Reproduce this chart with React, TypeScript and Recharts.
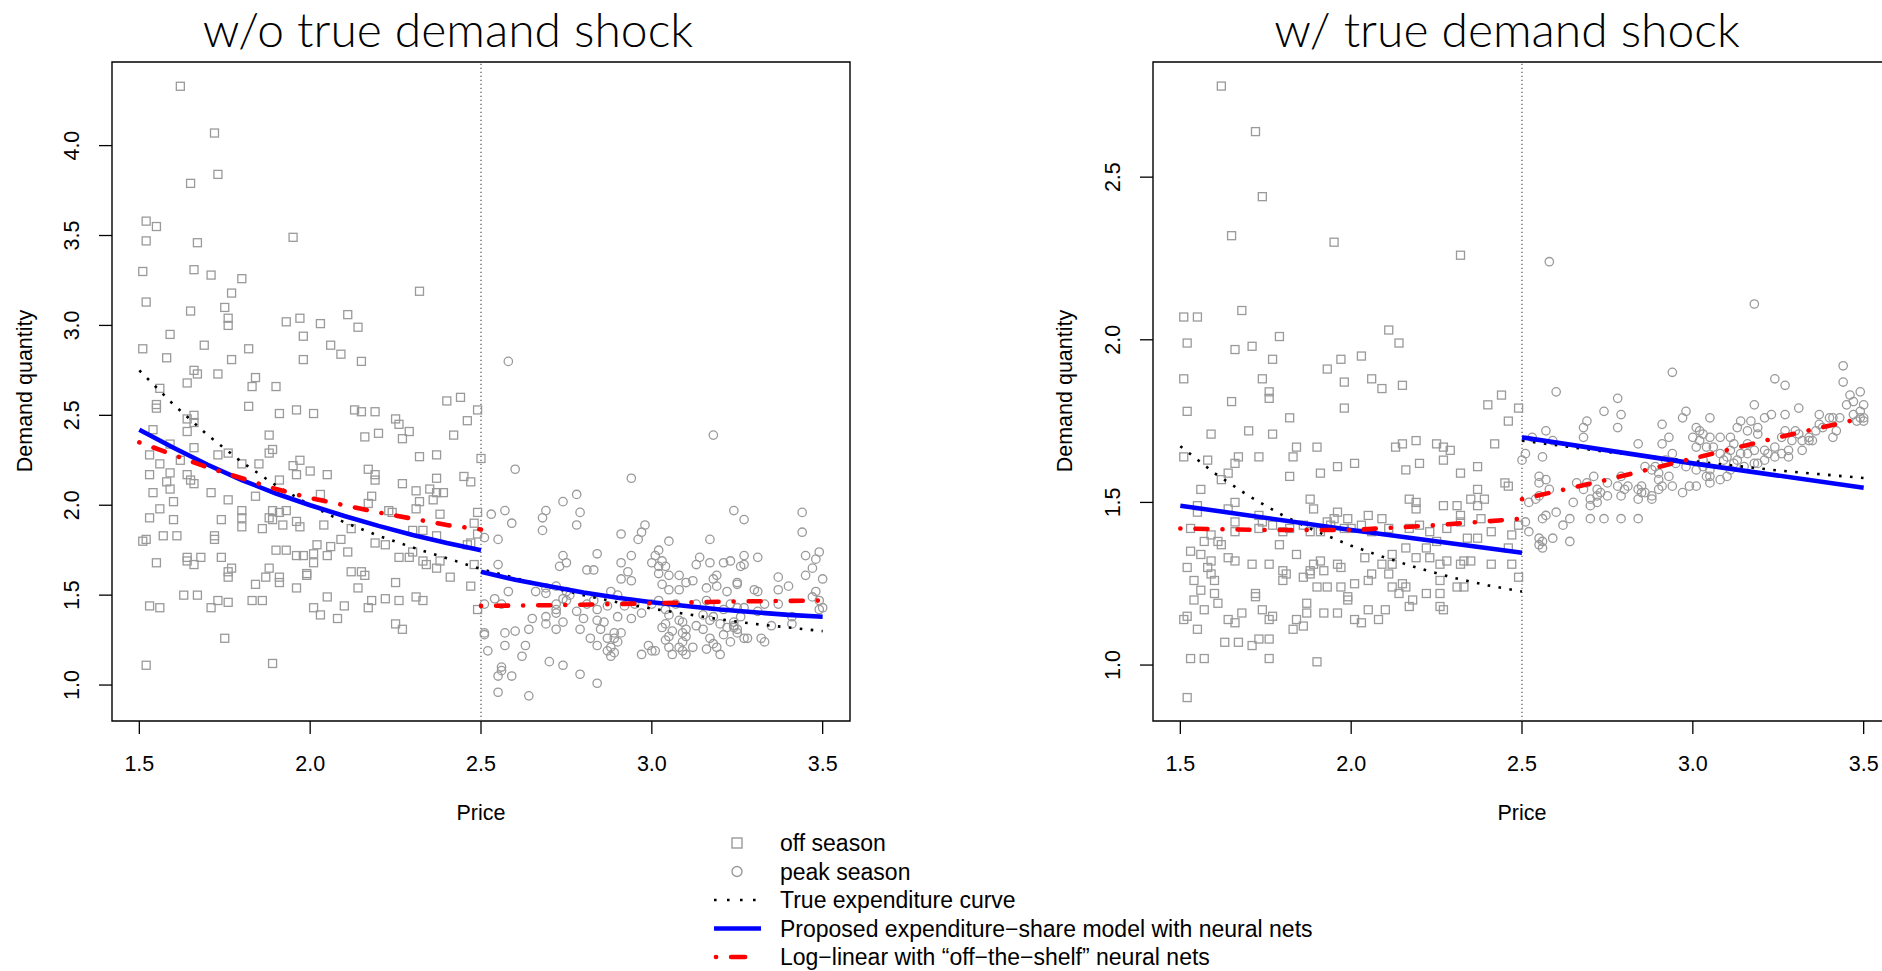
import React from 'react';
import { ScatterChart, Scatter, XAxis, YAxis, ReferenceLine, ReferenceArea } from 'recharts';

type Pair = [number, number];

// price, demand quantity — off season observations, no demand shock
const offSeasonNoShock: Pair[] = [
  [1.62, 4.33], [1.72, 4.07], [1.73, 3.84], [1.65, 3.79], [1.52, 3.58], [1.55, 3.55], [1.52, 3.47], [1.67, 3.46],
  [1.95, 3.49], [1.51, 3.3], [1.66, 3.31], [1.71, 3.28], [1.8, 3.26], [1.77, 3.18], [1.52, 3.13], [1.75, 3.1],
  [1.65, 3.08], [2.32, 3.19], [1.76, 3.04], [1.76, 3.0], [1.93, 3.02], [1.97, 3.04], [2.03, 3.01], [2.11, 3.06],
  [2.14, 2.99], [1.59, 2.95], [1.98, 2.94], [1.51, 2.87], [1.69, 2.89], [1.82, 2.87], [2.06, 2.89], [2.09, 2.84],
  [1.58, 2.82], [1.77, 2.81], [1.98, 2.81], [2.15, 2.8], [1.66, 2.75], [1.67, 2.73], [1.73, 2.73], [1.64, 2.68],
  [1.56, 2.65], [1.83, 2.66], [1.84, 2.71], [1.9, 2.66], [1.55, 2.56], [1.55, 2.54], [1.82, 2.55], [1.91, 2.51],
  [1.96, 2.53], [2.01, 2.51], [2.13, 2.53], [2.15, 2.52], [2.19, 2.52], [2.4, 2.58], [2.44, 2.6], [2.49, 2.53],
  [1.66, 2.5], [1.64, 2.48], [1.66, 2.46], [2.25, 2.48], [2.26, 2.45], [2.46, 2.47], [1.54, 2.42], [1.64, 2.41],
  [2.29, 2.41], [1.88, 2.39], [2.16, 2.38], [2.2, 2.4], [2.27, 2.37], [2.42, 2.39], [1.59, 2.34], [1.66, 2.32],
  [1.89, 2.31], [1.88, 2.29], [1.53, 2.28], [1.73, 2.28], [2.32, 2.27], [2.37, 2.28], [2.5, 2.26], [1.62, 2.25],
  [1.56, 2.23], [1.8, 2.23], [1.85, 2.23], [1.76, 2.29], [1.95, 2.22], [1.97, 2.25], [1.59, 2.18], [1.53, 2.17],
  [1.64, 2.17], [1.96, 2.17], [2.0, 2.19], [2.05, 2.17], [2.17, 2.2], [2.19, 2.17], [2.37, 2.15], [2.45, 2.16],
  [1.65, 2.14], [1.66, 2.12], [1.58, 2.13], [1.91, 2.14], [2.19, 2.14], [2.27, 2.12], [2.47, 2.13], [1.59, 2.09],
  [1.54, 2.07], [1.71, 2.07], [1.84, 2.05], [2.03, 2.06], [2.31, 2.08], [2.35, 2.09], [2.37, 2.07], [2.39, 2.07],
  [1.76, 2.03], [1.6, 2.02], [2.18, 2.05], [2.17, 2.01], [2.32, 2.02], [2.36, 2.03], [1.56, 1.98], [1.8, 1.97],
  [1.89, 1.97], [1.91, 1.96], [1.93, 1.97], [2.23, 1.97], [2.24, 1.96], [2.31, 1.98], [2.38, 1.95], [2.49, 1.96],
  [1.53, 1.93], [1.6, 1.92], [1.74, 1.92], [1.8, 1.93], [1.88, 1.93], [1.89, 1.92], [1.96, 1.91], [2.04, 1.89],
  [1.92, 1.89], [1.97, 1.88], [1.8, 1.88], [1.86, 1.87], [2.3, 1.86], [2.33, 1.86], [2.48, 1.9], [2.49, 1.84],
  [2.12, 1.87], [1.57, 1.83], [1.61, 1.83], [1.72, 1.83], [1.72, 1.81], [1.51, 1.8], [1.52, 1.81], [2.09, 1.81],
  [2.37, 1.83], [2.47, 1.79], [2.46, 1.78], [2.19, 1.79], [2.22, 1.78], [1.9, 1.75], [1.93, 1.75], [2.02, 1.78],
  [2.06, 1.77], [2.11, 1.74], [2.01, 1.73], [1.96, 1.72], [1.98, 1.72], [2.05, 1.72], [2.26, 1.71], [2.29, 1.71],
  [2.3, 1.74], [1.55, 1.68], [1.64, 1.71], [1.64, 1.69], [1.66, 1.67], [1.68, 1.71], [1.74, 1.71], [2.01, 1.68],
  [2.33, 1.69], [2.38, 1.69], [2.34, 1.67], [2.48, 1.67], [2.37, 1.65], [1.77, 1.65], [1.76, 1.63], [1.88, 1.65],
  [2.12, 1.63], [2.15, 1.63], [2.16, 1.61], [1.99, 1.62], [1.99, 1.61], [1.76, 1.6], [1.87, 1.6], [1.91, 1.6],
  [1.91, 1.57], [1.84, 1.56], [1.96, 1.54], [2.14, 1.54], [2.25, 1.57], [2.41, 1.6], [2.47, 1.55], [1.63, 1.5],
  [1.67, 1.5], [1.73, 1.47], [1.76, 1.46], [1.83, 1.47], [1.86, 1.47], [2.05, 1.49], [2.18, 1.47], [2.22, 1.48],
  [2.26, 1.47], [2.31, 1.49], [2.33, 1.47], [1.53, 1.44], [1.56, 1.43], [1.71, 1.43], [2.01, 1.43], [2.03, 1.39],
  [2.1, 1.44], [2.17, 1.43], [2.08, 1.37], [2.25, 1.34], [2.27, 1.31], [2.49, 1.42], [1.75, 1.26], [1.52, 1.11],
  [1.89, 1.12],
];

// peak season observations, no demand shock
const peakSeasonNoShock: Pair[] = [
  [2.58, 2.8], [3.18, 2.39], [2.6, 2.2], [2.94, 2.15], [2.78, 2.06], [2.74, 2.02], [2.57, 1.97], [2.53, 1.95],
  [2.68, 1.93], [2.69, 1.97], [2.59, 1.9], [2.79, 1.96], [2.78, 1.89], [2.68, 1.86], [2.55, 1.81], [2.51, 1.82],
  [2.98, 1.89], [2.97, 1.85], [2.96, 1.81], [2.91, 1.84], [3.05, 1.8], [3.17, 1.81], [3.24, 1.97], [3.27, 1.92],
  [3.44, 1.96], [3.44, 1.85], [2.74, 1.72], [2.75, 1.68], [2.73, 1.66], [2.84, 1.73], [2.81, 1.64], [2.83, 1.64],
  [2.91, 1.68], [2.94, 1.72], [2.93, 1.63], [2.91, 1.59], [2.94, 1.58], [3.0, 1.68], [3.02, 1.75], [3.03, 1.69],
  [3.01, 1.72], [3.02, 1.66], [3.04, 1.66], [3.02, 1.62], [3.03, 1.56], [3.05, 1.61], [3.08, 1.61], [3.1, 1.57],
  [3.12, 1.58], [3.08, 1.53], [3.05, 1.53], [3.14, 1.71], [3.17, 1.68], [3.13, 1.67], [3.21, 1.68], [3.23, 1.69],
  [3.27, 1.72], [3.31, 1.71], [3.27, 1.67], [3.26, 1.66], [3.19, 1.61], [3.18, 1.59], [3.19, 1.55], [3.16, 1.54],
  [3.25, 1.57], [3.25, 1.56], [3.22, 1.52], [3.3, 1.53], [3.31, 1.52], [3.37, 1.6], [3.37, 1.53], [3.4, 1.55],
  [3.45, 1.72], [3.49, 1.74], [3.48, 1.7], [3.47, 1.65], [3.5, 1.59], [3.45, 1.61], [3.48, 1.52], [3.47, 1.49],
  [3.49, 1.47], [3.49, 1.42], [3.5, 1.43], [3.41, 1.38], [3.41, 1.34], [3.35, 1.33], [3.37, 1.45], [3.33, 1.45],
  [2.55, 1.67], [2.58, 1.52], [2.54, 1.48], [2.51, 1.45], [2.56, 1.45], [2.66, 1.52], [2.69, 1.51], [2.69, 1.54],
  [2.72, 1.55], [2.75, 1.52], [2.76, 1.5], [2.74, 1.48], [2.75, 1.47], [2.72, 1.42], [2.72, 1.45], [2.72, 1.4],
  [2.69, 1.38], [2.69, 1.34], [2.65, 1.37], [2.64, 1.31], [2.6, 1.3], [2.57, 1.29], [2.51, 1.29], [2.74, 1.35],
  [2.72, 1.31], [2.8, 1.37], [2.78, 1.41], [2.81, 1.45], [2.84, 1.42], [2.87, 1.44], [2.83, 1.47], [2.84, 1.36],
  [2.85, 1.31], [2.86, 1.35], [2.88, 1.52], [2.9, 1.5], [2.92, 1.44], [2.9, 1.38], [2.94, 1.37], [2.97, 1.4],
  [2.95, 1.45], [3.0, 1.45], [3.02, 1.47], [3.04, 1.42], [3.07, 1.45], [3.05, 1.39], [3.04, 1.34], [3.08, 1.36],
  [3.09, 1.35], [3.1, 1.31], [3.09, 1.29], [3.06, 1.3], [3.13, 1.45], [3.16, 1.47], [3.17, 1.44], [3.15, 1.39],
  [3.17, 1.36], [3.13, 1.33], [3.15, 1.31], [3.18, 1.38], [3.21, 1.42], [3.23, 1.45], [3.25, 1.43], [3.27, 1.43],
  [3.26, 1.38], [3.24, 1.35], [3.24, 1.33], [3.22, 1.32], [3.24, 1.32], [3.25, 1.31], [3.21, 1.28], [3.2, 1.34],
  [3.17, 1.26], [3.18, 1.23], [3.16, 1.2], [3.19, 1.21], [3.27, 1.26], [3.28, 1.26], [3.23, 1.24], [3.32, 1.26],
  [3.33, 1.24], [3.25, 1.29], [3.31, 1.41], [2.79, 1.31], [2.82, 1.26], [2.84, 1.22], [2.87, 1.26], [2.89, 1.29],
  [2.89, 1.26], [2.91, 1.29], [2.9, 1.24], [2.88, 1.21], [2.89, 1.18], [2.88, 1.16], [2.87, 1.19], [2.97, 1.17],
  [2.99, 1.22], [3.01, 1.19], [3.0, 1.19], [3.04, 1.25], [3.05, 1.21], [3.08, 1.21], [3.09, 1.24], [3.1, 1.27],
  [3.12, 1.21], [3.06, 1.17], [3.1, 1.17], [3.09, 1.19], [3.2, 1.17], [3.03, 1.32], [3.05, 1.27], [2.63, 1.22],
  [2.62, 1.16], [2.57, 1.22], [2.52, 1.19], [2.7, 1.13], [2.74, 1.11], [2.56, 1.1], [2.56, 1.08], [2.55, 1.05],
  [2.59, 1.05], [2.79, 1.06], [2.84, 1.01], [2.55, 0.96], [2.64, 0.94], [2.51, 1.28],
];

// off season observations, with demand shock
const offSeasonShock: Pair[] = [
  [1.62, 2.78], [1.72, 2.64], [1.74, 2.44], [1.65, 2.32], [1.95, 2.3], [2.32, 2.26], [1.51, 2.07], [1.55, 2.07],
  [1.68, 2.09], [1.52, 1.99], [1.79, 2.01], [1.66, 1.97], [1.71, 1.98], [1.77, 1.94], [2.11, 2.03], [2.14, 1.99],
  [2.03, 1.95], [1.97, 1.94], [1.93, 1.91], [1.51, 1.88], [1.74, 1.88], [1.76, 1.84], [1.76, 1.82], [1.98, 1.87],
  [2.06, 1.88], [2.09, 1.85], [2.15, 1.86], [1.65, 1.81], [1.52, 1.78], [1.98, 1.79], [1.82, 1.76], [1.7, 1.72],
  [1.59, 1.71], [1.77, 1.71], [2.4, 1.8], [2.44, 1.83], [2.49, 1.79], [2.46, 1.75], [2.42, 1.68], [1.84, 1.67],
  [1.9, 1.67], [2.13, 1.67], [2.15, 1.68], [2.19, 1.69], [2.25, 1.68], [2.27, 1.67], [2.29, 1.66], [1.51, 1.64],
  [1.58, 1.63], [1.67, 1.64], [1.66, 1.62], [1.73, 1.64], [1.83, 1.64], [2.01, 1.62], [1.96, 1.61], [1.91, 1.59],
  [1.82, 1.58], [1.64, 1.59], [2.16, 1.6], [2.2, 1.62], [2.27, 1.63], [2.32, 1.59], [2.37, 1.61], [2.37, 1.54],
  [1.62, 1.57], [1.56, 1.54], [1.66, 1.5], [1.64, 1.48], [1.55, 1.49], [1.55, 1.47], [1.88, 1.51], [1.89, 1.48],
  [1.73, 1.46], [1.96, 1.47], [1.95, 1.45], [1.99, 1.45], [2.05, 1.46], [2.09, 1.45], [2.17, 1.51], [2.19, 1.5],
  [2.19, 1.48], [2.27, 1.49], [2.31, 1.49], [2.32, 1.46], [2.35, 1.51], [2.39, 1.51], [2.37, 1.49], [2.45, 1.56],
  [2.46, 1.55], [2.49, 1.43], [2.38, 1.45], [1.53, 1.42], [1.57, 1.38], [1.59, 1.4], [1.61, 1.38], [1.62, 1.37],
  [1.53, 1.35], [1.56, 1.34], [1.59, 1.32], [1.52, 1.3], [1.58, 1.3], [1.59, 1.28], [1.54, 1.26], [1.56, 1.23],
  [1.6, 1.26], [1.64, 1.33], [1.66, 1.32], [1.71, 1.31], [1.76, 1.31], [1.79, 1.37], [1.84, 1.34], [1.74, 1.44],
  [1.66, 1.44], [1.66, 1.41], [1.73, 1.42], [1.77, 1.43], [1.8, 1.41], [1.82, 1.42], [1.86, 1.43], [1.88, 1.41],
  [1.91, 1.41], [1.93, 1.44], [1.94, 1.43], [1.98, 1.42], [2.0, 1.42], [2.03, 1.43], [2.06, 1.41], [2.11, 1.42],
  [2.17, 1.42], [2.2, 1.43], [2.23, 1.41], [2.25, 1.38], [2.28, 1.42], [2.32, 1.44], [2.34, 1.39], [2.37, 1.39],
  [2.41, 1.41], [2.47, 1.4], [2.46, 1.36], [2.41, 1.31], [2.33, 1.32], [2.35, 1.32], [2.32, 1.31], [2.28, 1.32],
  [2.26, 1.31], [2.23, 1.33], [2.22, 1.36], [2.16, 1.36], [2.19, 1.33], [2.12, 1.34], [2.12, 1.31], [2.09, 1.31],
  [2.04, 1.33], [1.97, 1.3], [1.96, 1.31], [1.92, 1.29], [1.91, 1.32], [1.89, 1.31], [1.88, 1.29], [1.8, 1.29],
  [1.81, 1.28], [1.8, 1.26], [1.86, 1.27], [1.88, 1.28], [1.9, 1.24], [1.93, 1.24], [1.97, 1.24], [1.99, 1.21],
  [1.99, 1.2], [2.01, 1.25], [2.05, 1.26], [2.06, 1.28], [2.11, 1.28], [2.12, 1.24], [2.15, 1.25], [2.16, 1.24],
  [2.14, 1.22], [2.18, 1.2], [2.22, 1.22], [2.26, 1.22], [2.26, 1.26], [2.31, 1.24], [2.33, 1.24], [2.47, 1.31],
  [2.49, 1.27], [1.72, 1.22], [1.72, 1.21], [1.61, 1.19], [1.6, 1.22], [1.54, 1.2], [1.57, 1.17], [1.55, 1.11],
  [1.51, 1.14], [1.52, 1.15], [1.64, 1.14], [1.66, 1.13], [1.68, 1.16], [1.74, 1.17], [1.76, 1.14], [1.77, 1.15],
  [1.84, 1.14], [1.87, 1.16], [1.87, 1.19], [1.92, 1.16], [1.96, 1.16], [2.01, 1.14], [2.03, 1.13], [2.05, 1.17],
  [2.08, 1.14], [2.1, 1.17], [2.17, 1.18], [2.26, 1.18], [2.27, 1.17], [1.83, 1.11], [1.86, 1.12], [1.63, 1.07],
  [1.67, 1.07], [1.71, 1.06], [1.73, 1.08], [1.76, 1.08], [1.53, 1.02], [1.57, 1.02], [1.76, 1.02], [1.9, 1.01],
  [1.52, 0.9],
];

// peak season observations, with demand shock
const peakSeasonShock: Pair[] = [
  [2.58, 2.24], [3.18, 2.11], [2.6, 1.84], [2.94, 1.9], [2.78, 1.82], [2.79, 1.77], [2.74, 1.78], [2.69, 1.75],
  [2.68, 1.73], [2.68, 1.7], [2.57, 1.72], [2.53, 1.7], [2.59, 1.69], [2.78, 1.73], [2.84, 1.68], [2.91, 1.74],
  [2.97, 1.76], [2.98, 1.78], [2.93, 1.7], [2.91, 1.68], [2.94, 1.65], [3.01, 1.73], [3.02, 1.72], [3.05, 1.76],
  [3.03, 1.71], [3.05, 1.7], [3.0, 1.7], [3.02, 1.69], [3.01, 1.67], [3.04, 1.67], [3.08, 1.7], [3.11, 1.7],
  [3.13, 1.73], [3.14, 1.75], [3.17, 1.75], [3.16, 1.72], [3.18, 1.8], [3.19, 1.73], [3.19, 1.71], [3.21, 1.76],
  [3.23, 1.77], [3.27, 1.77], [3.31, 1.79], [3.27, 1.72], [3.3, 1.72], [3.31, 1.71], [3.34, 1.7], [3.35, 1.69],
  [3.37, 1.77], [3.41, 1.76], [3.42, 1.72], [3.41, 1.7], [3.44, 1.92], [3.44, 1.87], [3.24, 1.88], [3.27, 1.86],
  [3.46, 1.83], [3.49, 1.84], [3.47, 1.81], [3.5, 1.8], [3.49, 1.78], [3.47, 1.77], [3.49, 1.76], [3.5, 1.75],
  [3.26, 1.7], [3.29, 1.69], [3.28, 1.66], [3.32, 1.66], [3.28, 1.64], [3.26, 1.65], [3.24, 1.64], [3.22, 1.65],
  [3.21, 1.66], [3.18, 1.66], [3.16, 1.68], [3.14, 1.65], [3.12, 1.68], [3.11, 1.66], [3.1, 1.64], [3.08, 1.65],
  [3.06, 1.67], [3.09, 1.63], [3.12, 1.62], [3.15, 1.61], [3.18, 1.62], [3.19, 1.62], [3.21, 1.63], [3.03, 1.63],
  [3.03, 1.61], [3.05, 1.6], [3.05, 1.58], [3.01, 1.6], [2.98, 1.61], [2.95, 1.62], [2.92, 1.63], [2.89, 1.61],
  [2.88, 1.6], [2.86, 1.61], [2.9, 1.59], [2.9, 1.57], [2.93, 1.58], [2.94, 1.55], [2.91, 1.55], [2.9, 1.54],
  [2.88, 1.52], [2.88, 1.51], [2.86, 1.53], [2.85, 1.55], [2.84, 1.54], [2.85, 1.53], [2.84, 1.51], [2.81, 1.55],
  [2.79, 1.58], [2.78, 1.55], [2.8, 1.54], [2.79, 1.52], [2.75, 1.56], [2.75, 1.52], [2.73, 1.53], [2.72, 1.54],
  [2.71, 1.58], [2.69, 1.56], [2.66, 1.56], [2.7, 1.51], [2.72, 1.52], [2.72, 1.5], [2.7, 1.49], [2.68, 1.54],
  [2.65, 1.5], [2.64, 1.45], [2.62, 1.43], [2.6, 1.47], [2.57, 1.46], [2.56, 1.45], [2.55, 1.39], [2.56, 1.36],
  [2.55, 1.37], [2.56, 1.38], [2.59, 1.39], [2.64, 1.38], [2.52, 1.41], [2.51, 1.44], [2.52, 1.5], [2.54, 1.51],
  [2.55, 1.52], [2.58, 1.54], [2.57, 1.57], [2.55, 1.56], [2.55, 1.58], [2.56, 1.64], [2.51, 1.65], [2.5, 1.63],
  [2.7, 1.45], [2.74, 1.45], [2.79, 1.45], [2.84, 1.45], [2.97, 1.53], [2.99, 1.55], [3.01, 1.55], [3.11, 1.6],
  [3.1, 1.58], [3.08, 1.57], [3.04, 1.58], [3.05, 1.56], [3.13, 1.63], [3.16, 1.65], [3.24, 1.67], [3.32, 1.69],
  [3.34, 1.69], [3.4, 1.76], [3.5, 1.76], [3.48, 1.75], [3.38, 1.73], [3.45, 1.8], [3.43, 1.76], [3.36, 1.72],
  [3.37, 1.74],
];

// fitted curves, no demand shock
const trueCurveNoShock: Pair[] = [
  [1.5, 2.75], [1.6, 2.56], [1.7, 2.39], [1.8, 2.24], [1.9, 2.11], [2.0, 2.0], [2.1, 1.905], [2.2, 1.83],
  [2.3, 1.765], [2.4, 1.705], [2.5, 1.645], [2.6, 1.595], [2.7, 1.545], [2.8, 1.5], [2.9, 1.46], [3.0, 1.425],
  [3.1, 1.395], [3.2, 1.365], [3.3, 1.34], [3.4, 1.32], [3.5, 1.3],
];
const proposedOffNoShock: Pair[] = [
  [1.5, 2.42], [1.6, 2.32], [1.7, 2.225], [1.8, 2.14], [1.9, 2.065], [2.0, 2.0], [2.1, 1.94], [2.2, 1.885],
  [2.3, 1.835], [2.4, 1.79], [2.5, 1.75],
];
const proposedPeakNoShock: Pair[] = [
  [2.5, 1.63], [2.6, 1.585], [2.7, 1.55], [2.8, 1.515], [2.9, 1.485], [3.0, 1.46], [3.1, 1.44], [3.2, 1.42],
  [3.3, 1.405], [3.4, 1.39], [3.5, 1.38],
];
const logLinearOffNoShock: Pair[] = [
  [1.5, 2.35], [1.6, 2.28], [1.7, 2.21], [1.8, 2.15], [1.9, 2.09], [2.0, 2.04], [2.1, 2.0], [2.2, 1.96],
  [2.3, 1.925], [2.4, 1.89], [2.5, 1.865],
];
const logLinearPeakNoShock: Pair[] = [[2.5, 1.44], [2.75, 1.445], [3.0, 1.455], [3.25, 1.465], [3.5, 1.47]];

// fitted curves, with demand shock
const trueCurveOffShock: Pair[] = [
  [1.5, 1.673], [1.6, 1.59], [1.7, 1.52], [1.8, 1.46], [1.9, 1.41], [2.0, 1.367], [2.1, 1.33], [2.2, 1.297],
  [2.3, 1.268], [2.4, 1.245], [2.5, 1.226],
];
const trueCurvePeakShock: Pair[] = [[2.5, 1.69], [2.75, 1.655], [3.0, 1.627], [3.25, 1.598], [3.5, 1.575]];
const proposedOffShock: Pair[] = [[1.5, 1.49], [2.0, 1.415], [2.5, 1.345]];
const proposedPeakShock: Pair[] = [[2.5, 1.7], [3.0, 1.62], [3.5, 1.545]];
const logLinearOffShock: Pair[] = [[1.5, 1.42], [1.75, 1.415], [2.0, 1.415], [2.25, 1.43], [2.5, 1.45]];
const logLinearPeakShock: Pair[] = [[2.5, 1.51], [2.75, 1.57], [3.0, 1.635], [3.25, 1.7], [3.5, 1.76]];

const priceTicks = [1.5, 2.0, 2.5, 3.0, 3.5];
const quantityTicksNoShock = [1.0, 1.5, 2.0, 2.5, 3.0, 3.5, 4.0];
const quantityTicksShock = [1.0, 1.5, 2.0, 2.5];

const PRICE_DOMAIN: [number, number] = [1.42, 3.58];
const CHART_H = 860;
const GREY = '#9a9a9a';
const SANS = '"Liberation Sans", Arial, Helvetica, sans-serif';
const FONT = 21.5;

const toPoints = (pairs: Pair[]) => pairs.map(([p, q]) => ({ p, q }));

const OpenSquare = (props: any) => (
  <rect x={props.cx - 4} y={props.cy - 4} width={8} height={8} fill="none" stroke={GREY} strokeWidth={1.3} />
);
const OpenCircle = (props: any) => (
  <circle cx={props.cx} cy={props.cy} r={4.2} fill="none" stroke={GREY} strokeWidth={1.3} />
);
const NoMarker = () => <g />;

const dottedLine = { stroke: '#000', strokeWidth: 2.6, strokeDasharray: '2.6 8.4', fill: 'none' };
const solidLine = { stroke: '#0000ff', strokeWidth: 4.6, fill: 'none' };
const dotDashLine = {
  stroke: '#ff0000', strokeWidth: 4.6, strokeDasharray: '0.1 15 12 15', strokeLinecap: 'round', fill: 'none',
};

const XTick = ({ x, y, payload }: any) => (
  <text x={x} y={y + 29} dy="0.36em" textAnchor="middle" fontSize={FONT} fontFamily={SANS} fill="#000">
    {Number(payload.value).toFixed(1)}
  </text>
);

const YTick = ({ x, y, payload }: any) => {
  const cx = x - 28;
  return (
    <text x={cx} y={y} dy="0.36em" transform={`rotate(-90 ${cx} ${y})`} textAnchor="middle"
      fontSize={FONT} fontFamily={SANS} fill="#000">
      {Number(payload.value).toFixed(1)}
    </text>
  );
};

interface Curve { pairs: Pair[]; style: any }

interface PanelProps {
  left: number;
  width: number;
  marginLeft: number;
  yDomain: [number, number];
  yTicks: number[];
  off: Pair[];
  peak: Pair[];
  curves: Curve[];
}

function Panel({ left, width, marginLeft, yDomain, yTicks, off, peak, curves }: PanelProps) {
  return (
    <div style={{ position: 'absolute', left, top: 0 }}>
      <ScatterChart width={width} height={CHART_H} margin={{ top: 62, right: 50, bottom: 79, left: marginLeft }}>
        <XAxis type="number" dataKey="p" domain={PRICE_DOMAIN} ticks={priceTicks} allowDataOverflow interval={0}
          tick={<XTick />} tickSize={13} tickMargin={0} axisLine={false}
          tickLine={{ stroke: '#000', strokeWidth: 1.3 }} height={60} />
        <YAxis type="number" dataKey="q" domain={yDomain} ticks={yTicks} allowDataOverflow interval={0}
          tick={<YTick />} tickSize={13} tickMargin={0} axisLine={false}
          tickLine={{ stroke: '#000', strokeWidth: 1.3 }} width={60} />
        <ReferenceArea x1={PRICE_DOMAIN[0]} x2={PRICE_DOMAIN[1]} y1={yDomain[0]} y2={yDomain[1]}
          fill="none" stroke="#000" strokeWidth={1.4} />
        <ReferenceLine x={2.5} stroke="#555" strokeWidth={1.2} strokeDasharray="1.2 2.8" />
        <Scatter data={toPoints(off)} shape={OpenSquare} isAnimationActive={false} />
        <Scatter data={toPoints(peak)} shape={OpenCircle} isAnimationActive={false} />
        {curves.map((c, i) => (
          <Scatter key={i} data={toPoints(c.pairs)} shape={NoMarker} line={c.style} lineType="joint"
            isAnimationActive={false} />
        ))}
      </ScatterChart>
    </div>
  );
}

const legendRows = [
  { label: 'off season', kind: 'square' },
  { label: 'peak season', kind: 'circle' },
  { label: 'True expenditure curve', kind: 'dotted' },
  { label: 'Proposed expenditure\u2212share model with neural nets', kind: 'solid' },
  { label: 'Log\u2212linear with \u201coff\u2212the\u2212shelf\u201d neural nets', kind: 'dotdash' },
];

function LegendIcon({ kind, y }: { kind: string; y: number }) {
  if (kind === 'square') return <rect x={732} y={y - 5} width={10} height={10} fill="none" stroke={GREY} strokeWidth={1.4} />;
  if (kind === 'circle') return <circle cx={737} cy={y} r={5} fill="none" stroke={GREY} strokeWidth={1.4} />;
  if (kind === 'dotted') return <line x1={714} x2={761} y1={y} y2={y} stroke="#000" strokeWidth={2.6} strokeDasharray="2.6 10.4" />;
  if (kind === 'solid') return <line x1={714} x2={761} y1={y} y2={y} stroke="#0000ff" strokeWidth={4.6} />;
  return (
    <line x1={716} x2={749} y1={y} y2={y} stroke="#ff0000" strokeWidth={4.6} strokeDasharray="0.1 15 14 15"
      strokeLinecap="round" />
  );
}

export default function App() {
  const noShockCurves: Curve[] = [
    { pairs: trueCurveNoShock, style: dottedLine },
    { pairs: proposedOffNoShock, style: solidLine },
    { pairs: proposedPeakNoShock, style: solidLine },
    { pairs: logLinearOffNoShock, style: dotDashLine },
    { pairs: logLinearPeakNoShock, style: dotDashLine },
  ];
  const shockCurves: Curve[] = [
    { pairs: trueCurveOffShock, style: dottedLine },
    { pairs: trueCurvePeakShock, style: dottedLine },
    { pairs: proposedOffShock, style: solidLine },
    { pairs: proposedPeakShock, style: solidLine },
    { pairs: logLinearOffShock, style: dotDashLine },
    { pairs: logLinearPeakShock, style: dotDashLine },
  ];

  return (
    <div style={{ position: 'absolute', left: 0, top: 0, width: 1882, height: 971, overflow: 'hidden', background: '#fff' }}>
      <Panel left={0} width={900} marginLeft={52} yDomain={[0.8, 4.465]} yTicks={quantityTicksNoShock}
        off={offSeasonNoShock} peak={peakSeasonNoShock} curves={noShockCurves} />
      <Panel left={1000} width={941} marginLeft={93} yDomain={[0.828, 2.854]} yTicks={quantityTicksShock}
        off={offSeasonShock} peak={peakSeasonShock} curves={shockCurves} />

      <svg width={1882} height={971} style={{ position: 'absolute', left: 0, top: 0, pointerEvents: 'none' }}>
        <g fontFamily="Lato, 'Open Sans', sans-serif" fontWeight={300} fontSize={48} fill="#000" textAnchor="middle">
          <text x={448} y={47}>w/o true demand shock</text>
          <text x={1507} y={47}>w/ true demand shock</text>
        </g>
        <g fontFamily={SANS} fontSize={FONT} fill="#000" textAnchor="middle">
          <text x={481} y={812} dy="0.36em">Price</text>
          <text x={1522} y={812} dy="0.36em">Price</text>
          <text x={24} y={391} dy="0.36em" transform="rotate(-90 24 391)">Demand quantity</text>
          <text x={1064} y={391} dy="0.36em" transform="rotate(-90 1064 391)">Demand quantity</text>
        </g>
        <g fontFamily={SANS} fontSize={23} fill="#000">
          {legendRows.map((r, i) => {
            const y = 843 + i * 28.5;
            return (
              <g key={r.label}>
                <LegendIcon kind={r.kind} y={y} />
                <text x={780} y={y} dy="0.36em">{r.label}</text>
              </g>
            );
          })}
        </g>
      </svg>
    </div>
  );
}
